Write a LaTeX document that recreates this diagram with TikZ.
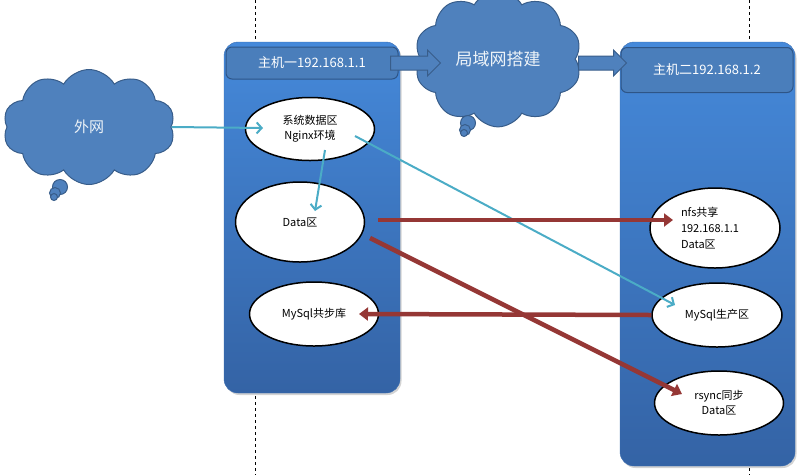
\documentclass[tikz,border=0pt]{standalone}
\usepackage{fontspec}
\setmainfont{Noto Sans CJK SC}
\usepackage{xcolor}
\usepackage{tikz}
\usetikzlibrary{shapes,arrows,positioning,calc,arrows.meta,shadows}

\definecolor{hostTop}{HTML}{4589DA}
\definecolor{hostBot}{HTML}{3463A5}
\definecolor{hostLine}{HTML}{3B6DB0}
\definecolor{hdrFill}{HTML}{4A7EBB}
\definecolor{hdrLine}{HTML}{2E5587}
\definecolor{cloudFill}{HTML}{4F81BD}
\definecolor{cloudLine}{HTML}{385D8A}
\definecolor{webTeal}{HTML}{4BACC6}
\definecolor{dataRed}{HTML}{953735}

\tikzset{
  hostbox/.style={rectangle,rounded corners=14pt,draw=hostLine,top color=hostTop,bottom color=hostBot,
    inner sep=0pt,drop shadow={opacity=0.35,shadow xshift=1.5pt,shadow yshift=-2pt}},
  hostbar/.style={rectangle,rounded corners=6pt,draw=hdrLine,line width=1pt,fill=hdrFill,text=white,
    inner sep=0pt,minimum width=172pt,font=\fontsize{13}{15}\selectfont},
  netcloud/.style={cloud,cloud puffs=10,cloud puff arc=120,draw=cloudLine,line width=1pt,fill=cloudFill,
    text=white!90!cloudFill,inner sep=0pt},
  bubble/.style={circle,draw=cloudLine,line width=1pt,fill=cloudFill,inner sep=0pt},
  zone/.style={ellipse,draw=black,line width=1.5pt,fill=white,inner sep=0pt,minimum width=129pt,
    align=center,font=\fontsize{11}{15}\selectfont},
  blockarrow/.style={single arrow,draw=cloudLine,line width=1pt,fill=cloudFill,inner xsep=0pt,inner ysep=6.5pt,
    single arrow head extend=6pt,minimum height=50pt},
  webline/.style={draw=webTeal,line width=2pt,-{Straight Barb[length=5pt,width=11pt]}},
  dataline/.style={draw=dataRed,line width=4.5pt,-{Triangle[length=9pt,width=13pt]}}
}

\begin{document}
\begin{tikzpicture}[x=1pt,y=-1pt]
    \useasboundingbox (0,0) rectangle (805,475);

    \draw[dashed] (255,0) -- (255,475);
    \draw[dashed] (749,0) -- (749,475);

    % two hosts
    \node[hostbox,minimum width=176pt,minimum height=351pt] (hostA) at (312,217.5) {};
    \node[hostbox,minimum width=175pt,minimum height=424pt] (hostB) at (707.5,254) {};
    \node[hostbar,minimum height=32pt] (barA) at (312,63) {主机一192.168.1.1};
    \node[hostbar,minimum height=45pt] (barB) at (707,70) {主机二192.168.1.2};

    % clouds
    \node[netcloud,minimum width=172pt,minimum height=115pt,font=\fontsize{15}{17}\selectfont] (wan) at (89,127) {外网};
    \node[bubble,minimum size=15pt] (wanB1) at (60,187) {};
    \node[bubble,minimum size=11pt] (wanB2) at (55,193) {};
    \node[bubble,minimum size=7pt] (wanB3) at (54,197) {};

    \node[netcloud,minimum width=167pt,minimum height=108pt,font=\fontsize{17}{19}\selectfont] (lan) at (498,59) {局域网搭建};
    \node[bubble,minimum size=15pt] (lanB1) at (468,123) {};
    \node[bubble,minimum size=11pt] (lanB2) at (465,130) {};
    \node[bubble,minimum size=7pt] (lanB3) at (464,133) {};

    \node[blockarrow] (toLan) at (412,63) {};
    \node[blockarrow,minimum height=48pt] (toHostB) at (599,63) {};

    % zones
    \node[zone,minimum height=63pt] (sysA) at (310,129) {系统数据区\\Nginx环境};
    \node[zone,minimum height=80pt] (dataA) at (300,222) {Data区};
    \node[zone,minimum height=64pt] (mysqlA) at (314,314) {MySql共步库};

    \node[zone,minimum width=130pt,minimum height=80pt,text width=68pt,align=left,
      font=\fontsize{11}{16}\selectfont] (nfsB) at (715,228) {nfs共享\\192.168.1.1\\Data区};
    \node[zone,minimum width=130pt,minimum height=64pt] (mysqlB) at (717,315) {MySql生产区};
    \node[zone,minimum height=64pt] (rsyncB) at (719,403) {rsync同步\\Data区};

    % connectors
    \draw[webline] (wan.east) -- ($(sysA.center)+(-47,-1)$);
    \draw[webline] ($(sysA.center)+(15,21)$) -- ($(dataA.center)+(15,-11)$);
    \draw[webline] ($(sysA.center)+(45,7)$) -- ($(mysqlB.center)+(-42,-10)$);

    \draw[dataline] ($(dataA.center)+(78,-2)$) -- ($(nfsB.center)+(-42,-8)$);
    \draw[dataline] ($(dataA.center)+(70,16)$) -- ($(rsyncB.center)+(-37,-9)$);
    \draw[dataline] (mysqlB.west) -- ($(mysqlA.center)+(45,0)$);
\end{tikzpicture}
\end{document}
